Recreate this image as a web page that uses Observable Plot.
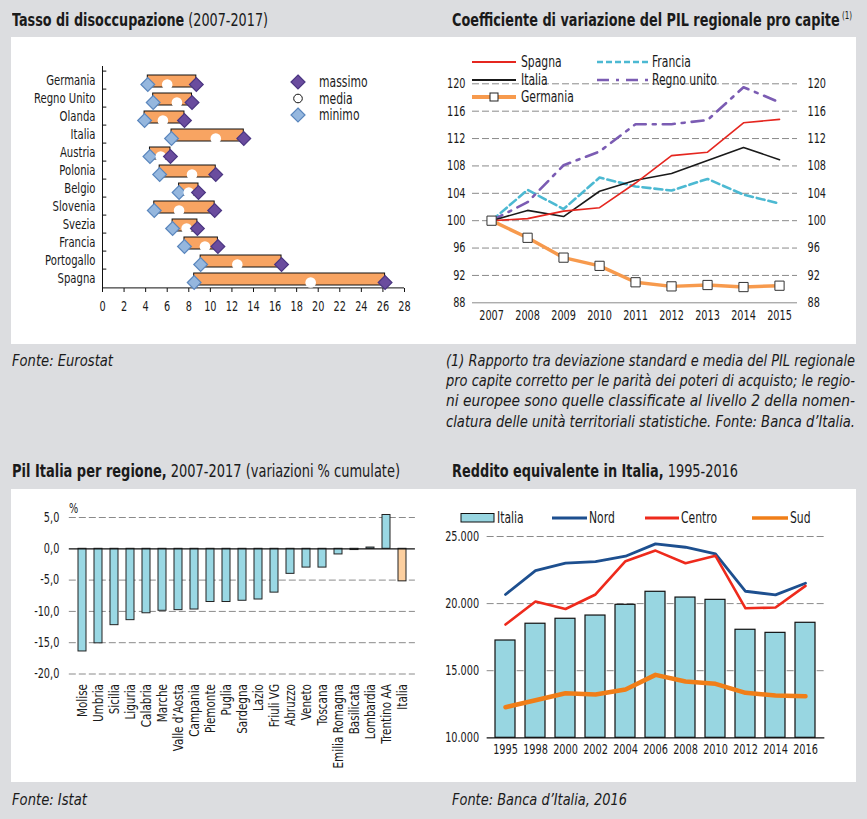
<!DOCTYPE html>
<html><head><meta charset="utf-8">
<script src="https://cdn.jsdelivr.net/npm/d3@7"></script>
<script src="https://cdn.jsdelivr.net/npm/@observablehq/plot@0.6"></script>
<style>
body{margin:0;background:#dcdde0;}
#root{position:relative;width:867px;height:819px;background:#dcdde0;overflow:hidden;
  font-family:'Liberation Sans Narrow','Arial Narrow','DejaVu Sans Condensed',sans-serif;color:#1a1a1a}
.abs{position:absolute;white-space:nowrap;line-height:1;transform-origin:0 0}
.panel{position:absolute;background:#fff}
.chart{position:absolute}
</style></head>
<body><div id="root"></div>
<script>
// ---------- DATA ----------
// Tasso di disoccupazione (2007-2017)
const countries = ["Germania","Regno Unito","Olanda","Italia","Austria","Polonia","Belgio","Slovenia","Svezia","Francia","Portogallo","Spagna"];
const unempMin  = [4.2, 4.7, 3.9, 6.4, 4.4, 5.3, 7.1, 4.8, 6.5, 7.6, 9.1, 8.5];
const unempMean = [6.0, 6.9, 5.6, 10.5, 5.4, 8.3, 8.0, 7.1, 7.8, 9.5, 12.5, 19.3];
const unempMax  = [8.7, 8.3, 7.6, 13.1, 6.3, 10.5, 8.9, 10.4, 8.8, 10.7, 16.6, 26.2];
const unempTicks = [0,2,4,6,8,10,12,14,16,18,20,22,24,26,28];

// Coefficiente di variazione del PIL regionale pro capite
const cvYears    = [2007,2008,2009,2010,2011,2012,2013,2014,2015];
const cvSpagna   = [100,100.3,101.4,101.9,105.5,109.5,110.0,114.3,114.8];
const cvItalia   = [100,101.5,100.6,104.3,105.9,106.9,108.8,110.7,108.9];
const cvFrancia  = [100,104.5,101.7,106.3,105.0,104.4,106.1,103.8,102.5];
const cvRegnoUnito = [100,102.7,108.1,110.1,114.1,114.1,114.7,119.5,117.3];
const cvGermania = [100,97.5,94.6,93.4,91.0,90.4,90.6,90.3,90.5];
const cvTicks = [88,92,96,100,104,108,112,116,120];

// Pil Italia per regione 2007-2017 (variazioni % cumulate)
const regions = ["Molise","Umbria","Sicilia","Liguria","Calabria","Marche","Valle d’Aosta","Campania","Piemonte","Puglia","Sardegna","Lazio","Friuli VG","Abruzzo","Veneto","Toscana","Emilia Romagna","Basilicata","Lombardia","Trentino AA","Italia"];
const pilVar = [-16.4,-15.1,-12.2,-11.4,-10.3,-9.9,-9.8,-9.7,-8.5,-8.5,-8.3,-8.1,-7.0,-4.0,-3.0,-3.0,-0.9,-0.2,0.2,5.4,-5.2];
const pilTicks = [5,0,-5,-10,-15,-20];

// Reddito equivalente in Italia 1995-2016
const redYears  = ["1995","1998","2000","2002","2004","2006","2008","2010","2012","2014","2016"];
const redItalia = [17250,18500,18870,19110,19910,20880,20450,20280,18050,17820,18570];
const redNord   = [20680,22460,23010,23130,23530,24450,24200,23710,20920,20650,21520];
const redCentro = [18440,20150,19600,20680,23160,23950,23010,23560,19650,19710,21320];
const redSud    = [12280,12800,13320,13230,13600,14690,14190,14020,13350,13150,13100];
const redTicks  = [10000,15000,20000,25000];

// ---------- LAYOUT ----------
const FONT = "'Liberation Sans Narrow','Arial Narrow','DejaVu Sans Condensed',sans-serif";
const K = 0.8; // horizontal condensing of svg text (narrow face look)
const root = document.getElementById("root");
function el(tag, cls, css, html){const e=document.createElement(tag); if(cls) e.className=cls; Object.assign(e.style,css||{}); if(html!=null) e.innerHTML=html; root.appendChild(e); return e;}
function txt(x, base, size, html, target, extra){
  const e = el("div","abs",Object.assign({left:x+"px",top:(base-0.85*size)+"px",fontSize:size+"px"},extra||{}),html);
  if (target) { const w = e.getBoundingClientRect().width; e.style.transform = `scaleX(${target/w})`; }
  return e;
}

el("div","panel",{left:"11px",top:"37px",width:"845px",height:"307px"});
el("div","panel",{left:"11px",top:"489px",width:"845px",height:"293px"});

txt(12,26,18,"<b>Tasso di disoccupazione</b> (2007-2017)", 256);
txt(452,26,18,"<b>Coefficiente di variazione del PIL regionale pro capite</b><span style='font-size:10px;vertical-align:7px'> (1)</span>", 400);
txt(12,367,16.5,"Fonte: Eurostat", 101, {fontStyle:"italic"});
const capLines = ["(1) Rapporto tra deviazione standard e media del PIL regionale",
 "pro capite corretto per le parità dei poteri di acquisto; le regio-",
 "ni europee sono quelle classificate al livello 2 della nomen-",
 "clatura delle unità territoriali statistiche. Fonte: Banca d’Italia."];
capLines.forEach((l,i)=>txt(446, 367+i*20.2, 16.5, l, 409, {fontStyle:"italic"}));
txt(12,477,18,"<b>Pil Italia per regione,</b> 2007-2017 (variazioni % cumulate)", 388);
txt(452,477,18,"<b>Reddito equivalente in Italia,</b> 1995-2016", 286);
txt(12,806,16.5,"Fonte: Istat", 75, {fontStyle:"italic"});
txt(452,806,16.5,"Fonte: Banca d’Italia, 2016", 175, {fontStyle:"italic"});

function condense(svg){
  svg.querySelectorAll("text").forEach(t=>{
    const L = t.getComputedTextLength();
    if (L > 0) { t.setAttribute("textLength", (L*K).toFixed(2)); t.setAttribute("lengthAdjust","spacingAndGlyphs"); }
  });
}
function place(svg, left, top){ const w=document.createElement("div"); w.className="chart"; w.style.left=left+"px"; w.style.top=top+"px"; w.appendChild(svg); root.appendChild(w); condense(svg); }
const baseStyle = {fontFamily: FONT, fontSize: "13px", color: "#1a1a1a", background: "transparent", overflow: "visible"};
const dash = {stroke: "#8a8a8a", strokeDasharray: "7,3", strokeWidth: 1};

// ---------- CHART 1 ----------
const data1 = countries.map((c,i)=>({c, min: unempMin[i], mean: unempMean[i], max: unempMax[i]}));
const p1 = Plot.plot({
  width: 420, height: 300, marginLeft: 91, marginRight: 27, marginTop: 29, marginBottom: 45,
  style: baseStyle,
  x: {domain: [0, 28], label: null},
  y: {domain: countries, padding: 0, label: null},
  marks: [
    Plot.tickX(unempTicks, {x: d=>d, insetTop: 222, stroke: "#111"}),
    Plot.ruleX([0], {stroke: "#111"}),
    Plot.ruleY(countries, {y: d=>d, x1: 0, x2: 0.4, dy: -9.4, stroke: "#111"}),
    Plot.ruleY([countries[countries.length-1]], {y: d=>d, x1: 0, x2: 28, dy: 9.4, stroke: "#111"}),
    Plot.axisX({ticks: unempTicks, tickFormat: d=>String(d), tickSize: 0, tickPadding: 9, fontSize: 13.5, label: null}),
    Plot.axisY({tickSize: 0, tickPadding: 7, fontSize: 14, label: null}),
    Plot.barX(data1, {y: "c", x1: "min", x2: "max", fill: "#f8a462", stroke: "#111", strokeWidth: 1, insetTop: 4, insetBottom: 2}),
    Plot.dot(data1, {x: "min", y: "c", symbol: "diamond2", r: 6.2, fill: "#95b7de", stroke: "#5a86bd", strokeWidth: 1.2, dy: 4}),
    Plot.dot(data1, {x: "mean", y: "c", r: 5.3, fill: "#fff", dy: 4}),
    Plot.dot(data1, {x: "max", y: "c", symbol: "diamond2", r: 6.2, fill: "#6a4c9e", stroke: "#4b3682", strokeWidth: 1.2, dy: 4})
  ]
});
place(p1, 11, 37);

// ---------- CHART 2 ----------
const data2 = cvYears.map((y,i)=>({year: y, spagna: cvSpagna[i], italia: cvItalia[i], francia: cvFrancia[i], uk: cvRegnoUnito[i], germania: cvGermania[i]}));
const p2 = Plot.plot({
  width: 426, height: 300, marginLeft: 42, marginRight: 59, marginTop: 46.3, marginBottom: 34.7,
  style: baseStyle,
  x: {domain: [2006.47, 2015.5], label: null},
  y: {domain: [88, 120], label: null},
  marks: [
    Plot.ruleY(cvTicks.filter(d=>d>88), dash),
    Plot.ruleY([88], {stroke: "#8a8a8a", strokeWidth: 1}),
    Plot.axisY({anchor: "left", ticks: cvTicks, tickSize: 0, tickPadding: 7, fontSize: 13.5, label: null}),
    Plot.axisY({anchor: "right", ticks: cvTicks, tickSize: 0, tickPadding: 10, fontSize: 13.5, label: null}),
    Plot.axisX({ticks: cvYears, tickFormat: d=>String(d), tickSize: 0, tickPadding: 8, fontSize: 13.5, label: null}),
    Plot.line(data2, {x: "year", y: "francia", stroke: "#4cb9d2", strokeWidth: 2.6, strokeDasharray: "8,4"}),
    Plot.line(data2, {x: "year", y: "uk", stroke: "#7b5cb3", strokeWidth: 2.6, strokeDasharray: "12,7,3,7"}),
    Plot.line(data2, {x: "year", y: "italia", stroke: "#1a1a1a", strokeWidth: 1.6}),
    Plot.line(data2, {x: "year", y: "spagna", stroke: "#e5261f", strokeWidth: 1.6}),
    Plot.line(data2, {x: "year", y: "germania", stroke: "#f79a4d", strokeWidth: 3.5}),
    Plot.dot(data2, {x: "year", y: "germania", symbol: "square", r: 5.2, fill: "#fff", stroke: "#333", strokeWidth: 1})
  ]
});
place(p2, 430, 37);

// ---------- CHART 3 ----------
const data3 = regions.map((r,i)=>({r, v: pilVar[i]}));
const p3 = Plot.plot({
  width: 420, height: 293, marginLeft: 57.8, marginRight: 16.1, marginTop: 28, marginBottom: 108.5,
  style: baseStyle,
  x: {domain: regions, paddingInner: 0.47, paddingOuter: 0.235, label: null},
  y: {domain: [-20, 5], label: null},
  marks: [
    Plot.ruleY(pilTicks.filter(d=>d!==0), dash),
    Plot.barY(data3, {x: "r", y: "v", fill: "#9ad8e4", stroke: "#222", strokeWidth: 1, filter: d=>d.r!=="Italia"}),
    Plot.barY(data3, {x: "r", y: "v", fill: "#fccf9f", stroke: "#222", strokeWidth: 1, filter: d=>d.r==="Italia"}),
    Plot.ruleY([0], {stroke: "#111", strokeWidth: 1.2}),
    Plot.axisY({ticks: pilTicks, tickFormat: d=>d.toFixed(1).replace(".", ","), tickSize: 0, tickPadding: 10, fontSize: 13.5, label: null}),
    Plot.axisX({tickRotate: -90, tickSize: 0, tickPadding: 10, fontSize: 14.5, label: null})
  ]
});
place(p3, 11, 489);

// ---------- CHART 4 ----------
const data4 = redYears.map((y,i)=>({year: y, italia: redItalia[i], nord: redNord[i], centro: redCentro[i], sud: redSud[i]}));
const p4 = Plot.plot({
  width: 426, height: 293, marginLeft: 56.65, marginRight: 31.65, marginTop: 47, marginBottom: 44.7,
  style: baseStyle,
  x: {domain: redYears, paddingInner: 0.326, paddingOuter: 0.163, label: null},
  y: {domain: [10000, 25000], label: null},
  marks: [
    Plot.ruleY(redTicks.filter(d=>d>10000), dash),
    Plot.barY(data4, {x: "year", y1: ()=>10000, y2: "italia", fill: "#98d6e1", stroke: "#111", strokeWidth: 1.2}),
    Plot.ruleY([10000], {stroke: "#111", strokeWidth: 1.3}),
    Plot.line(data4, {x: "year", y: "nord", stroke: "#1d4f8f", strokeWidth: 2.8}),
    Plot.line(data4, {x: "year", y: "centro", stroke: "#ee2a1c", strokeWidth: 2.6}),
    Plot.line(data4, {x: "year", y: "sud", stroke: "#f07e18", strokeWidth: 4.5}),
    Plot.axisY({ticks: redTicks, tickFormat: d=>d3.format(",")(d).replace(",", "."), tickSize: 0, tickPadding: 8, fontSize: 13.5, label: null}),
    Plot.axisX({tickSize: 0, tickPadding: 7, fontSize: 13.5, label: null})
  ]
});
place(p4, 430, 489);

// ---------- LEGENDS (overlay) ----------
const NS = "http://www.w3.org/2000/svg";
const ov = document.createElementNS(NS, "svg");
ov.setAttribute("width", 867); ov.setAttribute("height", 819);
ov.style.position = "absolute"; ov.style.left = "0"; ov.style.top = "0"; ov.style.pointerEvents = "none";
root.appendChild(ov);
function s(tag, attrs, text){ const e=document.createElementNS(NS, tag); for(const k in attrs) e.setAttribute(k, attrs[k]); if(text!=null) e.textContent=text; ov.appendChild(e); return e; }
function lt(x, y, t, size){ s("text", {x, y, "dominant-baseline":"central", "font-family":FONT, "font-size":size||15, fill:"#1a1a1a"}, t); }
function diamond(cx, cy, h, fill, stroke){ s("polygon", {points:`${cx},${cy-h} ${cx+h},${cy} ${cx},${cy+h} ${cx-h},${cy}`, fill, stroke, "stroke-width":1.2}); }

// chart 1 legend
diamond(298, 82, 7, "#6a4c9e", "#4b3682"); lt(319, 82, "massimo");
s("circle", {cx:298, cy:98.5, r:4.3, fill:"#fff", stroke:"#111", "stroke-width":1}); lt(319, 98.5, "media");
diamond(298, 115, 7, "#95b7de", "#5a86bd"); lt(319, 115, "minimo");

// chart 2 legend
s("line", {x1:472, x2:516, y1:62, y2:62, stroke:"#e5261f", "stroke-width":1.8}); lt(521, 62, "Spagna");
s("line", {x1:472, x2:516, y1:80, y2:80, stroke:"#1a1a1a", "stroke-width":1.8}); lt(521, 80, "Italia");
s("line", {x1:472, x2:516, y1:97, y2:97, stroke:"#f79a4d", "stroke-width":4}); 
s("rect", {x:490, y:93, width:8, height:8, fill:"#fff", stroke:"#222", "stroke-width":1}); lt(521, 97, "Germania");
s("line", {x1:597, x2:650, y1:62, y2:62, stroke:"#4cb9d2", "stroke-width":2.6, "stroke-dasharray":"6,3"}); lt(652, 62, "Francia");
s("line", {x1:597, x2:650, y1:80, y2:80, stroke:"#7b5cb3", "stroke-width":2.6, "stroke-dasharray":"12,7,3,7"}); lt(652, 80, "Regno unito");

// chart 3 "%" label
lt(69, 508, "%", 13.5);

// chart 4 legend
s("rect", {x:461, y:513.5, width:33, height:8.5, fill:"#98d6e1", stroke:"#111", "stroke-width":1}); lt(497, 518, "Italia");
s("line", {x1:552, x2:587, y1:518, y2:518, stroke:"#1d4f8f", "stroke-width":3}); lt(589, 518, "Nord");
s("line", {x1:645, x2:679, y1:518, y2:518, stroke:"#ee2a1c", "stroke-width":3}); lt(681, 518, "Centro");
s("line", {x1:752, x2:788, y1:518, y2:518, stroke:"#f07e18", "stroke-width":3.5}); lt(790, 518, "Sud");
condense(ov);
</script>
</body></html>
